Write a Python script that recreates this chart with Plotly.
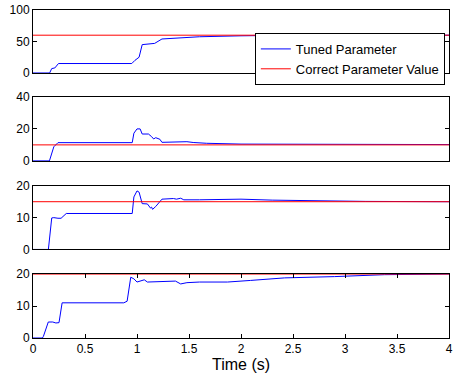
import plotly.graph_objects as go

# ---- data ----
p1_t = [0, 0.16, 0.18, 0.21, 0.245, 0.95, 0.98, 1.02, 1.05, 1.1, 1.17, 1.24, 1.4, 1.6, 2.0, 2.5, 4.0]
p1_y = [0, 0, 7, 8, 15, 15, 20, 25, 45, 46, 47, 54, 56, 57.5, 59, 60, 60]

p2_t = [0, 0.158, 0.2, 0.24, 0.954, 0.97, 1.0, 1.03, 1.05, 1.11, 1.14, 1.16, 1.18, 1.22, 1.24,
        1.32, 1.35, 1.48, 1.54, 1.67, 2.0, 3.0, 4.0]
p2_y = [0, 0, 8.8, 11.4, 11.4, 17.3, 20, 20, 16.8, 16.8, 15.2, 13.7, 14.5, 13.5, 11.6,
        11.6, 12, 12, 11.5, 11, 10.5, 10.3, 10.2]

p3_t = [0, 0.148, 0.18, 0.2, 0.24, 0.27, 0.32, 0.954, 0.97, 1.0, 1.02, 1.05, 1.1, 1.13, 1.14,
        1.15, 1.18, 1.24, 1.35, 1.38, 1.42, 1.45, 1.6, 2.0, 2.3, 2.6, 3.2, 4.0]
p3_y = [0, 0, 9.9, 10, 9.8, 9.8, 11.3, 11.3, 16.5, 18.4, 18, 14.4, 14.3, 13, 13.3,
        12.6, 13.5, 15.8, 16, 15.8, 16.1, 15.6, 15.6, 15.8, 15.5, 15.3, 15.1, 15.0]

p4_t = [0, 0.09, 0.1, 0.147, 0.19, 0.22, 0.25, 0.28, 0.873, 0.905, 0.94, 0.97, 1.0, 1.04, 1.07,
        1.1, 1.29, 1.37, 1.42, 1.48, 1.6, 1.87, 2.09, 2.42, 2.9, 3.38, 4.0]
p4_y = [0, 0, 0.5, 5, 5, 4.7, 4.8, 11, 11, 11.5, 19, 18.5, 17.5, 17.8, 18.2,
        17.5, 17.6, 17.8, 16.9, 17.3, 17.5, 17.5, 18, 18.8, 19.2, 19.8, 20]

correct_values = [60, 10, 15, 20]
y_ranges = [[0, 100], [0, 40], [0, 20], [0, 20]]
y_ticks = [[0, 50, 100], [0, 20, 40], [0, 10, 20], [0, 10, 20]]
x_ticks = [0, 0.5, 1, 1.5, 2, 2.5, 3, 3.5, 4]
x_ticklabels = ["0", "0.5", "1", "1.5", "2", "2.5", "3", "3.5", "4"]

series = [(p1_t, p1_y), (p2_t, p2_y), (p3_t, p3_y), (p4_t, p4_y)]
domains = [[0.808, 1.0], [0.540, 0.735], [0.270, 0.464], [0.0, 0.195]]

FAM = "Liberation Sans, Arial, sans-serif"
font = dict(family=FAM, size=12, color="black")

fig = go.Figure()

for i, (t, y) in enumerate(series):
    k = "" if i == 0 else str(i + 1)
    fig.add_trace(go.Scatter(x=t, y=y, mode="lines", line=dict(color="#0000ff", width=1),
                             name="Tuned Parameter", showlegend=(i == 0),
                             xaxis="x" + k, yaxis="y" + k))
    fig.add_trace(go.Scatter(x=[0, 4], y=[correct_values[i]] * 2, mode="lines",
                             line=dict(color="#ff0000", width=1),
                             name="Correct Parameter Value", showlegend=(i == 0),
                             xaxis="x" + k, yaxis="y" + k))
    last = (i == 3)
    xa = dict(domain=[0, 1], range=[0, 4], anchor="y" + k, showgrid=False, zeroline=False,
              automargin=False, ticklabeloverflow="allow",
              showline=True, linecolor="black", linewidth=1, mirror="ticks" if last else True,
              ticks="inside" if last else "", ticklen=4, tickcolor="black",
              tickvals=x_ticks, ticktext=x_ticklabels, showticklabels=last, tickfont=font)
    if last:
        xa["title"] = dict(text="Time (s)", font=dict(family=FAM, size=16, color="black"),
                           standoff=0)
    ya = dict(domain=domains[i], range=y_ranges[i], anchor="x" + k, showgrid=False, zeroline=False,
              automargin=False, ticklabeloverflow="allow",
              showline=True, linecolor="black", linewidth=1, mirror="ticks",
              ticks="inside", ticklen=4, tickcolor="black", tickvals=y_ticks[i],
              tickfont=font)
    fig.layout["xaxis" + k] = xa
    fig.layout["yaxis" + k] = ya

fig.update_layout(
    width=454, height=381,
    margin=dict(l=33, r=5, t=10, b=43),
    paper_bgcolor="white", plot_bgcolor="white",
    font=font,
    legend=dict(x=0.99, y=0.93, xanchor="right", yanchor="top",
                bgcolor="white", bordercolor="black", borderwidth=1,
                font=dict(family=FAM, size=13, color="black"),
                tracegroupgap=0, itemwidth=30),
)

# remove the browser's default 8px body margin so the figure fills the window
fig.write_html("out.html",
               config={"displayModeBar": False},
               post_script="document.body.style.margin='0';document.body.style.overflow='hidden';")
